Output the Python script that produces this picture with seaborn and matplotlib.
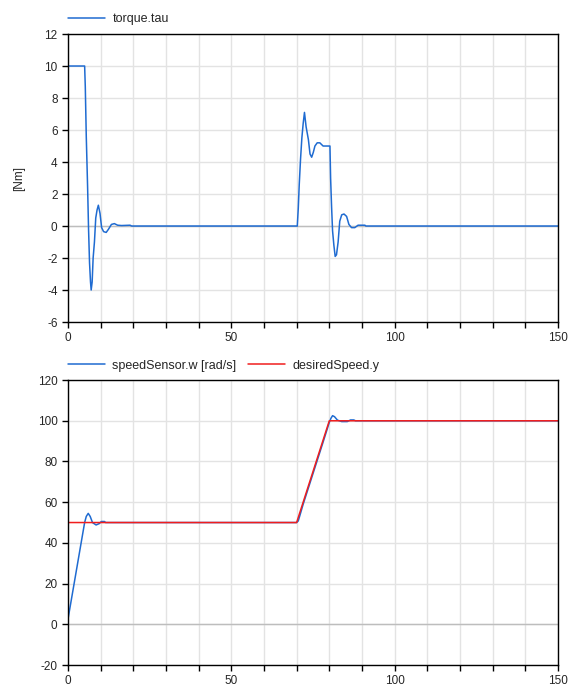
import matplotlib
matplotlib.use("Agg")
import matplotlib.pyplot as plt
import seaborn as sns
import pandas as pd
from matplotlib.ticker import MultipleLocator

# ---- data ----
t_tau = [0, 5.1, 5.3, 5.6, 6.0, 6.3, 6.6, 6.9, 7.1, 7.4, 7.7, 8.1, 8.5, 8.9, 9.3, 9.8,
         10.3, 10.9, 11.7, 12.4, 13.3, 14.2, 15.2, 16.4, 19.0, 19.5, 20.5,
         70.2, 70.5, 70.8, 71.2, 71.6, 72.0, 72.4, 72.9, 73.6, 74.1, 74.6, 75.1, 75.6,
         76.3, 77.1, 78.1, 80.2, 80.4, 80.7, 81.0, 81.4, 81.8, 82.2, 82.7, 83.2, 83.8,
         84.5, 85.3, 86.0, 86.8, 87.8, 88.8, 90.9, 91.2, 150]
tau = [10, 10, 8.7, 5.6, 2.5, -0.2, -2.3, -3.5, -4.0, -3.5, -2.0, -1.0, 0.5, 1.0, 1.3, 0.8,
       -0.1, -0.35, -0.4, -0.2, 0.1, 0.15, 0.05, 0.03, 0.05, 0, 0,
       0, 1.1, 2.6, 4.2, 5.5, 6.4, 7.1, 6.2, 5.4, 4.5, 4.3, 4.6, 5.0,
       5.2, 5.2, 5.0, 5.0, 3.0, 1.2, -0.3, -1.2, -1.9, -1.8, -1.0, 0.3, 0.7,
       0.75, 0.6, 0.1, -0.1, -0.1, 0.05, 0.05, 0, 0]

t_w = [0, 5.1, 5.6, 6.2, 6.8, 7.5, 8.6, 9.6, 10.2, 11.2, 11.5, 70, 70.5, 71, 72, 74, 76,
       78, 80, 80.5, 81.0, 81.6, 82.5, 83.8, 85.5, 86.5, 87.5, 88, 150]
w = [2.5, 50, 53, 54.5, 53, 50, 48.8, 49.5, 50.5, 50.5, 50, 50, 50.8, 53.5, 59, 69, 79,
     89, 99.2, 101.2, 102.5, 102, 100.3, 99.6, 99.6, 100.4, 100.4, 100, 100]

t_d = [0, 70, 80, 150]
d = [50, 50, 100, 100]

BLUE = "#1f6bd1"
RED = "#f01e1e"

sns.set_style("white")
plt.rcParams["font.family"] = ["Liberation Sans", "DejaVu Sans"]
plt.rcParams["axes.unicode_minus"] = False

fig = plt.figure(figsize=(5.84, 6.9), dpi=100)
ax1 = fig.add_axes([0.1164, 0.5333, 0.839, 0.4174])
ax2 = fig.add_axes([0.1164, 0.0362, 0.839, 0.4130])

df_tau = pd.DataFrame({"t": t_tau, "v": tau})
df_w = pd.DataFrame({"t": t_w, "v": w})
df_d = pd.DataFrame({"t": t_d, "v": d})

sns.lineplot(data=df_tau, x="t", y="v", ax=ax1, color=BLUE, lw=1.1, label="torque.tau",
             estimator=None, sort=False)
sns.lineplot(data=df_w, x="t", y="v", ax=ax2, color=BLUE, lw=1.1, label="speedSensor.w [rad/s]",
             estimator=None, sort=False)
sns.lineplot(data=df_d, x="t", y="v", ax=ax2, color=RED, lw=1.1, label="desiredSpeed.y",
             estimator=None, sort=False)

for ax, (lo, hi, step) in [(ax1, (-6, 12, 2)), (ax2, (-20, 120, 20))]:
    ax.set_xlim(0, 150)
    ax.set_ylim(lo, hi)
    ax.xaxis.set_major_locator(MultipleLocator(50))
    ax.xaxis.set_minor_locator(MultipleLocator(10))
    ax.yaxis.set_major_locator(MultipleLocator(step))
    ax.grid(True, which="both", color="#e3e3e3", lw=1.0)
    ax.set_axisbelow(True)
    ax.axhline(0, color="#bdbdbd", lw=1.0, zorder=1)
    for s in ax.spines.values():
        s.set_visible(True)
        s.set_color("black")
        s.set_linewidth(1.0)
    ax.tick_params(axis="both", which="both", direction="out", length=4, width=1,
                   color="black", labelsize=8.5, bottom=True, left=True, top=False, right=False)
    ax.tick_params(axis="x", which="minor", length=4)
    ax.set_xlabel("")
    ax.set_ylabel("")

ax1.set_ylabel("[Nm]", fontsize=8.5, labelpad=14)

leg_kw = dict(loc="lower left", frameon=False, fontsize=9, handlelength=3.0,
              handletextpad=0.55, borderaxespad=0.0, borderpad=0.0)
ax1.legend(bbox_to_anchor=(0.0, 1.03), **leg_kw)
ax2.legend(bbox_to_anchor=(0.0, 1.03), ncol=2, columnspacing=0.9, **leg_kw)

fig.savefig("out.png", dpi=100)
